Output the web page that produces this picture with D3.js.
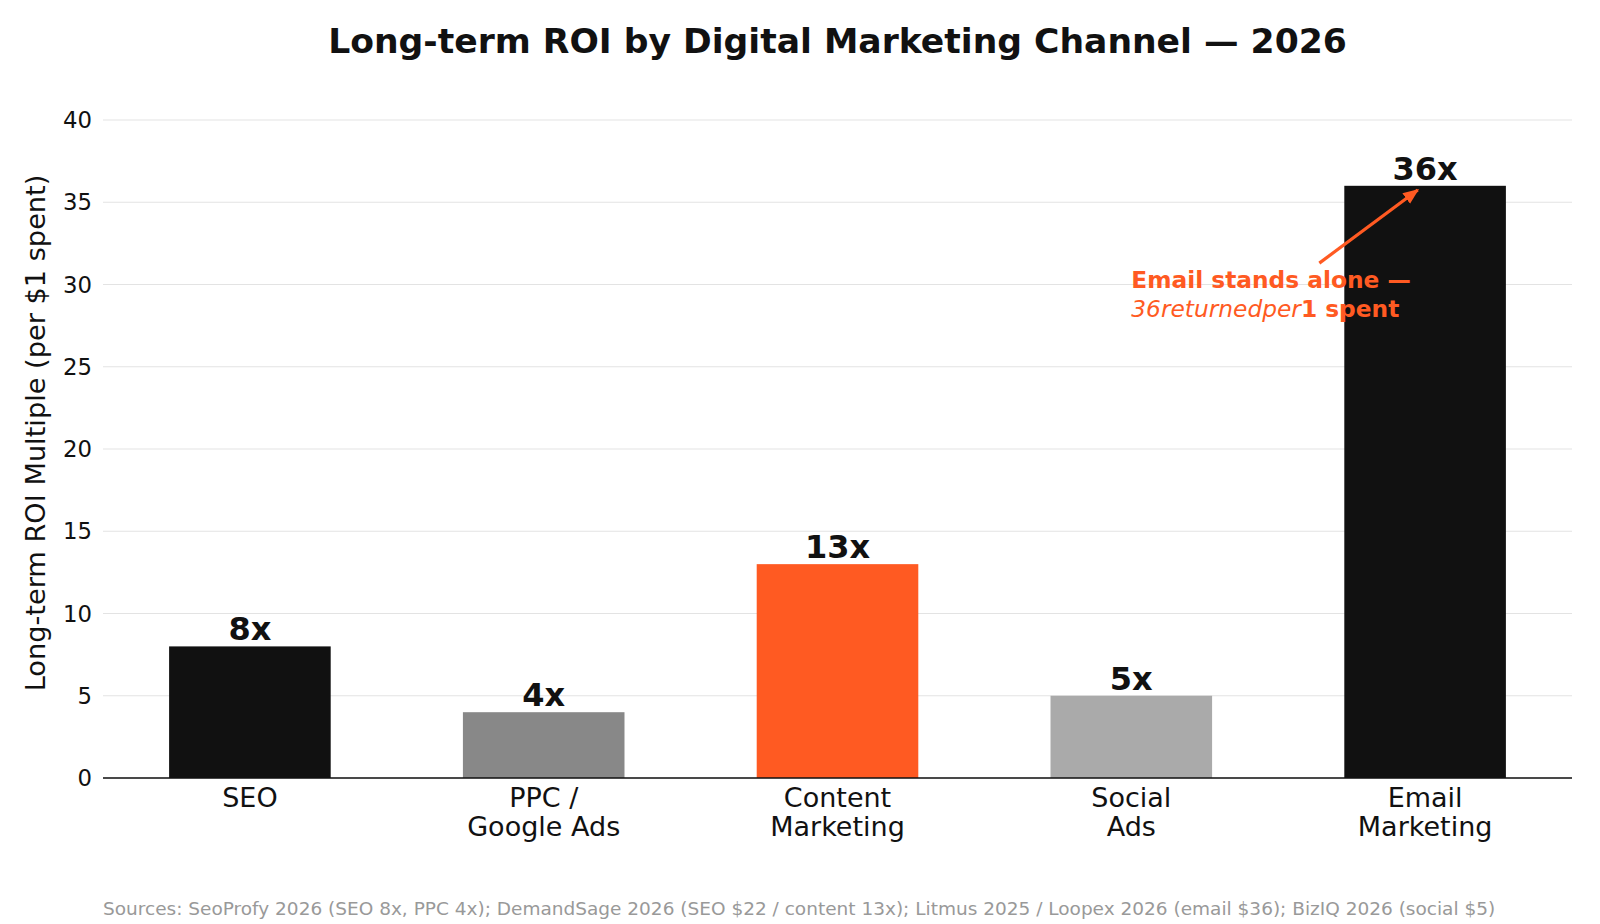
<!DOCTYPE html>
<html>
<head>
<meta charset="utf-8">
<script src="https://cdn.jsdelivr.net/npm/d3@7"></script>
<style>
  body { margin: 0; background: #fff; }
  svg { font-family: "DejaVu Sans", sans-serif; }
</style>
</head>
<body>
<svg width="1600" height="924"></svg>
<script>
const channels = ["SEO", "PPC /\nGoogle Ads", "Content\nMarketing", "Social\nAds", "Email\nMarketing"];
const roi = [8, 4, 13, 5, 36];
const barColors = ["#111111", "#888888", "#FF5A22", "#AAAAAA", "#111111"];
const yTicks = [0, 5, 10, 15, 20, 25, 30, 35, 40];

const margin = {top: 120, left: 103, right: 28, bottom: 146},
    width = 1600 - margin.left - margin.right,
    height = 924 - margin.top - margin.bottom;

const svg = d3.select("svg");
const g = svg.append("g")
    .attr("transform", "translate(" + margin.left + "," + margin.top + ")");

const x = d3.scaleBand().domain(d3.range(channels.length)).range([0, width])
    .paddingInner(0.45).paddingOuter(0.225);
const y = d3.scaleLinear().domain([0, 40]).range([height, 0]);
// category index -> center position (for annotation placement)
const xc = i => x.step() * (i + 0.5);

// grid
g.selectAll(".grid").data(yTicks).enter().append("line")
    .attr("x1", 0).attr("x2", width)
    .attr("y1", d => y(d)).attr("y2", d => y(d))
    .attr("stroke", "#e3e3e3").attr("stroke-width", 1.2);

// y axis labels
g.selectAll(".ytick").data(yTicks).enter().append("text")
    .attr("x", -11).attr("y", d => y(d)).attr("dy", "0.36em")
    .attr("text-anchor", "end").attr("font-size", 22.8).attr("fill", "#111")
    .text(d => d);

// bars
g.selectAll(".bar").data(roi).enter().append("rect")
    .attr("x", (d, i) => x(i)).attr("width", x.bandwidth())
    .attr("y", d => y(d)).attr("height", d => height - y(d))
    .attr("fill", (d, i) => barColors[i]);

// value labels
g.selectAll(".val").data(roi).enter().append("text")
    .attr("x", (d, i) => x(i) + x.bandwidth() / 2)
    .attr("y", d => y(d) - 6)
    .attr("text-anchor", "middle").attr("font-size", 32).attr("font-weight", "bold")
    .attr("fill", "#111")
    .text(d => d + "x");

// bottom spine
g.append("line").attr("x1", 0).attr("x2", width)
    .attr("y1", height).attr("y2", height)
    .attr("stroke", "#111").attr("stroke-width", 1.3);

// x tick labels
const xl = g.selectAll(".xtick").data(channels).enter().append("text")
    .attr("text-anchor", "middle").attr("font-size", 27).attr("fill", "#111")
    .attr("transform", (d, i) => "translate(" + (x(i) + x.bandwidth() / 2) + "," + (height + 29) + ")");
xl.selectAll("tspan").data(d => d.split("\n")).enter().append("tspan")
    .attr("x", 0).attr("dy", (d, i) => i ? 28.5 : 0).text(d => d);

// y axis title
svg.append("text")
    .attr("transform", "translate(45,433) rotate(-90)")
    .attr("text-anchor", "middle").attr("font-size", 27.2).attr("fill", "#111")
    .text("Long-term ROI Multiple (per $1 spent)");

// title
svg.append("text")
    .attr("x", margin.left + width / 2).attr("y", 53)
    .attr("text-anchor", "middle").attr("font-size", 34.6).attr("font-weight", "bold")
    .attr("fill", "#111")
    .text("Long-term ROI by Digital Marketing Channel \u2014 2026");

// annotation
const orange = "#FF5A22";
svg.append("defs").append("marker")
    .attr("id", "arr").attr("viewBox", "0 0 10 10").attr("refX", 9).attr("refY", 5)
    .attr("markerWidth", 5).attr("markerHeight", 5).attr("orient", "auto")
    .append("path").attr("d", "M0,1 L10,5 L0,9 Z").attr("fill", orange);

g.append("line")
    .attr("x1", xc(3.64)).attr("y1", y(31.3))
    .attr("x2", xc(3.975)).attr("y2", y(35.75))
    .attr("stroke", orange).attr("stroke-width", 3.2)
    .attr("marker-end", "url(#arr)");

const ann = g.append("text").attr("fill", orange).attr("font-size", 23.3)
    .attr("x", xc(3.0)).attr("y", y(28));
ann.append("tspan").attr("x", xc(3.0)).attr("dy", -29).attr("font-weight", "bold")
    .text("Email stands alone \u2014");
ann.append("tspan").attr("x", xc(3.0)).attr("dy", 29).attr("font-style", "italic")
    .text("36returnedper");
ann.append("tspan").attr("font-weight", "bold").text("1 spent");

// footer
svg.append("text")
    .attr("x", margin.left).attr("y", 915)
    .attr("font-size", 18.5).attr("fill", "#999")
    .text("Sources: SeoProfy 2026 (SEO 8x, PPC 4x); DemandSage 2026 (SEO $22 / content 13x); Litmus 2025 / Loopex 2026 (email $36); BizIQ 2026 (social $5)");
</script>
</body>
</html>
